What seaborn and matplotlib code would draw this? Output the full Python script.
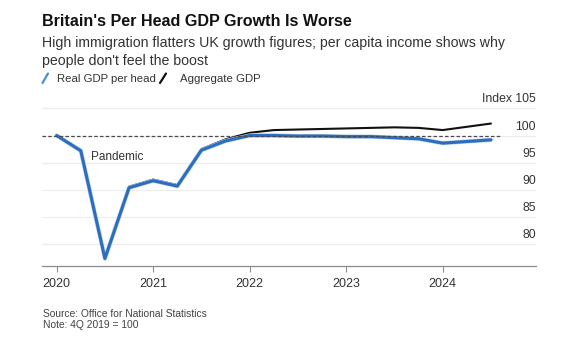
import matplotlib
matplotlib.use("Agg")
import numpy as np
import pandas as pd
import matplotlib.pyplot as plt
import seaborn as sns
from matplotlib.lines import Line2D
import matplotlib.patheffects as pe

# ---------------- data ----------------
quarters = ["2019Q4",
            "2020Q1", "2020Q2", "2020Q3", "2020Q4",
            "2021Q1", "2021Q2", "2021Q3", "2021Q4",
            "2022Q1", "2022Q2", "2022Q3", "2022Q4",
            "2023Q1", "2023Q2", "2023Q3", "2023Q4",
            "2024Q1", "2024Q2"]
per_head = [100.0,
            97.2, 77.4, 90.4, 91.7,
            90.7, 97.3, 99.0, 100.0,
            100.0, 99.9, 99.9, 99.8,
            99.8, 99.6, 99.4, 98.6,
            98.9, 99.2]
aggregate = [100.0,
             97.3, 77.6, 90.6, 91.9,
             90.9, 97.5, 99.3, 100.5,
             101.0, 101.1, 101.2, 101.3,
             101.4, 101.5, 101.4, 101.0,
             101.6, 102.2]
series_names = ["Real GDP per head", "Aggregate GDP"]
year_ticks = [2020, 2021, 2022, 2023, 2024]
year_labels = ["2020", "2021", "2022", "2023", "2024"]
y_grid = [80, 85, 90, 95, 100, 105]
y_labels = ["80", "85", "90", "95", "100", "Index 105"]
baseline = 100
annotation = "Pandemic"
title = "Britain's Per Head GDP Growth Is Worse"
subtitle = ("High immigration flatters UK growth figures; per capita income shows why\n"
            "people don't feel the boost")
source = "Source: Office for National Statistics"
note = "Note: 4Q 2019 = 100"


def quarter_end(q):
    return int(q[:4]) + int(q[-1]) / 4


xpos = [quarter_end(q) for q in quarters]
df = pd.DataFrame({
    "x": xpos * 2,
    "value": per_head + aggregate,
    "series": [series_names[0]] * len(xpos) + [series_names[1]] * len(xpos),
})

# ---------------- style ----------------
sns.set_theme(style="white")
plt.rcParams["font.family"] = ["Liberation Sans", "DejaVu Sans"]

BLUE = "#2e6cbd"
BLACK = "#111111"
TXT = "#333333"

W, H = 564, 344
fig = plt.figure(figsize=(W / 100, H / 100), dpi=100)
fig.patch.set_facecolor("white")


def fx(px):
    return px / W


def fy(py):
    return 1 - py / H


ax_left, ax_right, ax_top, ax_bottom = 42, 536, 94.7, 265.7
ax = fig.add_axes([fx(ax_left), fy(ax_bottom), (ax_right - ax_left) / W, (ax_bottom - ax_top) / H])
ax.set_facecolor("white")

# baseline dashed line (drawn over the series, as in the reference)
ax.axhline(baseline, xmin=0, xmax=(500 - ax_left) / (ax_right - ax_left),
           color="#4a4a4a", lw=0.9, ls=(0, (2.8, 1.8)), zorder=6)

sns.lineplot(data=df[df.series == series_names[1]], x="x", y="value",
             color=BLACK, lw=1.5, ax=ax, legend=False, zorder=3)
sns.lineplot(data=df[df.series == series_names[0]], x="x", y="value",
             color=BLUE, lw=2.2, ax=ax, legend=False, zorder=4,
             path_effects=[pe.Stroke(linewidth=3.0, foreground="#a9cdf0"), pe.Normal()])

ax.set_xlim(2019.848, 2024.967)
ax.set_ylim(76.07, 107.5)
ax.set_xlabel("")
ax.set_ylabel("")

for s in ["top", "left", "right"]:
    ax.spines[s].set_visible(False)
ax.spines["bottom"].set_color("#8c8c8c")
ax.spines["bottom"].set_linewidth(0.9)

ax.set_yticks(y_grid)
ax.yaxis.grid(True, color="#ececec", lw=0.8, zorder=0)
ax.xaxis.grid(False)
ax.tick_params(axis="y", length=0, labelleft=False, labelright=False)
ax.set_xticks(year_ticks)
ax.set_xticklabels(year_labels)
ax.tick_params(axis="x", bottom=True, length=4, width=0.8, color="#8c8c8c",
               pad=5, labelsize=9, labelcolor=TXT)

for v, lab in zip(y_grid, y_labels):
    ax.annotate(lab, xy=(1, v), xycoords=("axes fraction", "data"),
                xytext=(0, 4.3), textcoords="offset points",
                ha="right", va="baseline", fontsize=8.8, color=TXT)

ax.text(2020.36, 96.0, annotation, ha="left", va="center", fontsize=8.5, color=TXT)

# ---------------- header / footer ----------------
renderer = fig.canvas.get_renderer()


def fit(t, width_px):
    bb = t.get_window_extent(renderer)
    t.set_fontsize(t.get_fontsize() * width_px / bb.width)


t_title = fig.text(fx(42), fy(21.7), title, ha="left", va="center",
                   fontsize=11.6, fontweight="bold", color="#111111")
fit(t_title, 310)

t_sub1 = fig.text(fx(42), fy(47.5), subtitle.split("\n")[0], ha="left", va="baseline",
                  fontsize=9.5, color=TXT)
fit(t_sub1, 463)
t_sub2 = fig.text(fx(42), fy(64.5), subtitle.split("\n")[1], ha="left", va="baseline",
                  fontsize=t_sub1.get_fontsize(), color=TXT)

# legend
fig.add_artist(Line2D([fx(42.5), fx(48)], [fy(83), fy(73.5)], color="#4a8fd6", lw=1.6,
                      transform=fig.transFigure))
t_l1 = fig.text(fx(56.7), fy(78.5), series_names[0], ha="left", va="center",
                fontsize=8, color=TXT)
fit(t_l1, 100)
fig.add_artist(Line2D([fx(160), fx(166)], [fy(83), fy(73.5)], color=BLACK, lw=1.6,
                      transform=fig.transFigure))
t_l2 = fig.text(fx(180), fy(78.5), series_names[1], ha="left", va="center",
                fontsize=t_l1.get_fontsize(), color=TXT)

t_src = fig.text(fx(43), fy(314), source, ha="left", va="center", fontsize=6.5, color="#444444")
fit(t_src, 165)
fig.text(fx(43), fy(325.5), note, ha="left", va="center",
         fontsize=t_src.get_fontsize(), color="#444444")

fig.savefig("out.png", dpi=100, facecolor="white")
